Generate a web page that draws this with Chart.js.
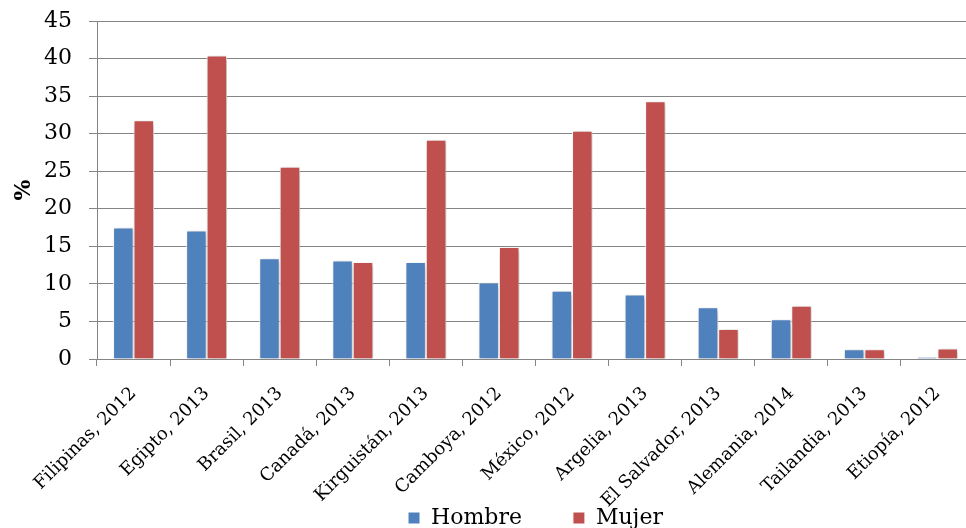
<!DOCTYPE html>
<html>
<head>
<meta charset="utf-8">
<script src="https://cdn.jsdelivr.net/npm/chart.js@4/dist/chart.umd.min.js"></script>
<style>
  html, body { margin: 0; padding: 0; background: #ffffff; overflow: hidden; }
  canvas { display: block; }
</style>
</head>
<body>
<canvas id="chart" width="976" height="528"></canvas>
<script>
// Country / survey-year categories
const categories = [
  'Filipinas, 2012', 'Egipto, 2013', 'Brasil, 2013', 'Canadá, 2013',
  'Kirguistán, 2013', 'Camboya, 2012', 'México, 2012', 'Argelia, 2013',
  'El Salvador, 2013', 'Alemania, 2014', 'Tailandia, 2013', 'Etiopía, 2012'
];

// Percentages by sex
const hombre = [17.5, 17.1, 13.4, 13.1, 12.9, 10.2, 9.1, 8.6, 6.9, 5.3, 1.3, 0.25];
const mujer  = [31.8, 40.4, 25.6, 12.9, 29.2, 14.9, 30.4, 34.3, 4.0, 7.1, 1.3, 1.4];

// Y axis range and step
const yMin = 0;
const yMax = 45;
const yStep = 5;

const SERIF = '"DejaVu Serif", "Liberation Serif", serif';
const GRID = '#858585';

// Soft drop shadow behind the bars
const barShadow = {
  id: 'barShadow',
  beforeDatasetsDraw(chart) {
    const ctx = chart.ctx;
    ctx.save();
    ctx.shadowColor = 'rgba(0,0,0,0.30)';
    ctx.shadowBlur = 5;
    ctx.shadowOffsetX = 1.5;
    ctx.shadowOffsetY = 1.5;
  },
  afterDatasetsDraw(chart) {
    chart.ctx.restore();
  }
};

// The rotated category labels need a tall axis box; the legend row is
// then lifted so that it sits just under the longest labels.
const LEGEND_TOP = 456;
const legendPlacement = {
  id: 'legendPlacement',
  afterLayout(chart) {
    const lg = chart.legend;
    if (!lg) return;
    const h = lg.bottom - lg.top;
    lg.top = LEGEND_TOP;
    lg.bottom = LEGEND_TOP + h;
  }
};

new Chart(document.getElementById('chart'), {
  type: 'bar',
  data: {
    labels: categories,
    datasets: [
      {
        label: 'Hombre',
        data: hombre,
        backgroundColor: '#4F81BD',
        borderColor: '#ffffff',
        borderWidth: 1,
        borderSkipped: 'bottom',
        categoryPercentage: 0.56,
        barPercentage: 1.0
      },
      {
        label: 'Mujer',
        data: mujer,
        backgroundColor: '#C0504D',
        borderColor: '#ffffff',
        borderWidth: 1,
        borderSkipped: 'bottom',
        categoryPercentage: 0.56,
        barPercentage: 1.0
      }
    ]
  },
  options: {
    responsive: false,
    animation: false,
    devicePixelRatio: 1,
    layout: { padding: { left: 7, right: 2, top: 21, bottom: -67 } },
    plugins: {
      tooltip: { enabled: false },
      legend: {
        position: 'bottom',
        fullSize: false,
        labels: {
          color: '#000000',
          font: { family: SERIF, size: 22 },
          boxWidth: 12,
          boxHeight: 12,
          padding: 51
        }
      }
    },
    scales: {
      x: {
        offset: true,
        grid: {
          offset: true,
          drawOnChartArea: false,
          drawTicks: true,
          tickLength: 7,
          color: GRID,
          lineWidth: 1
        },
        border: { display: true, color: GRID, width: 1 },
        ticks: {
          color: '#000000',
          font: { family: SERIF, size: 18 },
          maxRotation: 45,
          minRotation: 45,
          autoSkip: false,
          padding: 17
        },
        afterFit(scale) { scale.height = 153; }
      },
      y: {
        min: yMin,
        max: yMax,
        grid: {
          color: GRID,
          lineWidth: 1,
          drawTicks: true,
          tickLength: 8
        },
        border: { display: true, color: GRID, width: 1 },
        ticks: {
          stepSize: yStep,
          color: '#000000',
          font: { family: SERIF, size: 22 },
          padding: 17
        },
        title: {
          display: true,
          text: '%',
          color: '#000000',
          font: { family: SERIF, size: 22, weight: 'bold' },
          padding: { top: 4, bottom: 4 }
        },
        afterFit(scale) {
          scale.width = 90;
          // only half a label of head room above the top tick
          scale.paddingTop = 13;
          scale.paddingBottom = 13;
        }
      }
    }
  },
  plugins: [barShadow, legendPlacement]
});
</script>
</body>
</html>
